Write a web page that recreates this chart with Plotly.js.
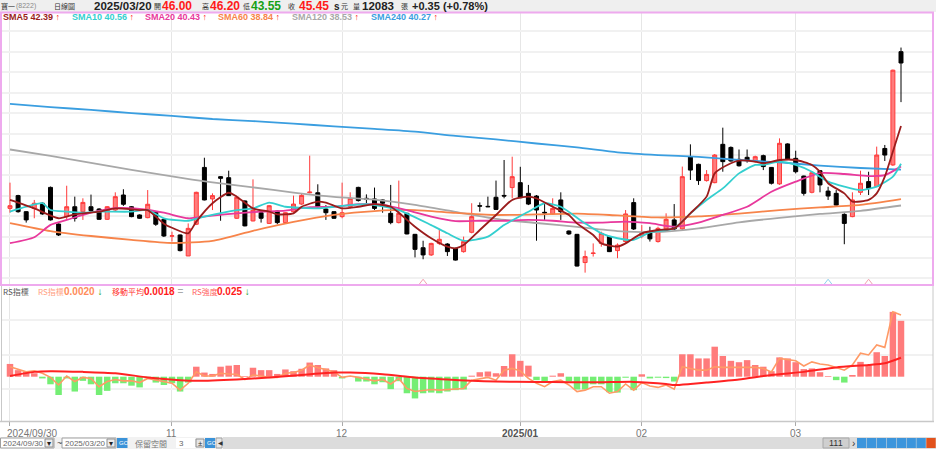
<!DOCTYPE html>
<html><head><meta charset="utf-8">
<script src="https://cdn.plot.ly/plotly-3.0.1.min.js"></script>
<style>html,body{margin:0;padding:0;background:#fff;}#chart{width:936px;height:449px;}</style>
</head><body><div id="chart"></div>
<script>
// ---- price candles (one per trading day, 2024/09/30 .. 2025/03/20) ----
const openP  = [38.39,39.01,38.23,38.39,38.64,39.41,37.63,37.99,38.47,38.23, 38.47,38.36,37.86,38.31,39.04,38.47,38.07,37.94,38.23,37.86, 37.04,37.10,36.08,37.62,40.38,38.85,39.93,39.88,37.91,38.75, 37.78,38.18,37.66,38.26,37.70,38.23,38.60,39.15,39.15,38.36, 38.23,37.99,38.47,39.41,38.88,38.85,38.80,38.15,37.70,38.15, 37.13,36.48,36.13,36.69,36.66,36.45,36.29,37.23,38.52,38.49, 38.93,39.02,39.40,39.64,39.12,38.99,38.20,38.12,38.80,37.29, 37.13,35.76,36.20,36.69,37.02,36.34,36.78,38.67,37.05,37.23, 36.78,37.39,37.83,37.39,40.90,40.53,39.74,39.64,41.50,41.35, 40.77,40.87,40.66,40.95,40.38,39.58,41.52,40.82,39.96,39.17, 40.22,39.23,39.12,38.10,37.99,39.17,39.69,39.45,41.30,40.50,46.00];
const highP  = [39.64,39.05,38.25,38.80,38.68,39.45,37.66,39.49,38.96,38.88, 39.06,38.40,38.50,39.17,39.32,38.50,38.10,39.28,38.26,37.90, 37.26,37.12,37.66,39.20,40.85,39.12,39.95,40.22,38.96,38.78, 39.80,38.20,38.55,38.28,38.20,39.01,39.12,40.95,39.56,38.55, 38.25,39.64,39.17,39.44,39.07,39.40,38.82,39.53,39.74,38.18, 37.15,36.82,36.72,37.39,36.70,36.48,37.02,38.64,38.68,38.96, 39.74,40.74,40.90,40.41,39.53,39.04,38.64,38.88,39.17,37.32, 37.15,36.34,36.69,37.26,37.05,36.69,38.31,38.88,37.58,37.50, 37.50,38.15,38.60,40.42,41.50,40.56,40.25,41.03,42.31,41.40, 41.25,41.25,40.95,41.00,40.40,41.79,41.55,41.19,39.98,40.17, 40.25,39.44,39.28,38.15,39.17,40.22,40.17,41.39,41.47,45.13,46.20];
const lowP   = [38.18,38.18,37.70,37.91,38.08,37.80,37.05,37.83,37.75,37.83, 38.23,37.83,37.83,38.23,38.51,37.96,37.88,37.91,37.54,37.00, 36.78,36.30,36.08,37.58,38.78,38.31,37.79,38.99,37.88,37.52, 37.76,37.70,37.64,37.62,37.68,38.18,38.56,39.12,38.39,37.83, 37.88,37.91,38.39,38.72,38.64,38.31,38.18,37.62,37.66,37.13, 36.01,35.92,36.08,36.61,36.08,35.86,36.24,37.18,38.23,38.45, 38.31,38.88,38.88,38.90,38.55,36.82,37.83,38.07,37.83,37.10, 35.57,35.27,36.05,36.53,36.27,35.97,36.69,37.34,36.94,36.78, 36.73,37.34,37.34,37.34,39.77,39.53,39.69,39.61,40.17,40.66, 40.42,40.61,40.61,40.25,39.55,39.53,40.74,40.09,39.01,39.12, 39.17,38.80,38.53,36.65,37.96,39.04,39.04,39.43,40.69,40.45,43.55];
const closeP = [38.52,38.23,37.83,38.64,38.12,37.83,37.10,38.47,37.91,38.68, 38.28,37.86,38.47,38.96,38.59,37.99,37.91,38.59,37.62,37.05, 37.06,36.34,37.42,39.17,38.80,39.01,39.85,39.01,38.93,37.54, 38.31,37.91,38.52,37.70,38.18,38.60,39.02,39.18,38.47,38.18, 37.91,38.18,38.88,38.77,38.82,38.39,38.64,37.70,38.15,37.15, 36.40,36.13,36.69,36.89,36.29,35.88,36.78,37.99,38.50,38.47, 38.34,38.99,39.93,38.91,38.60,38.31,38.17,38.39,38.23,37.15, 35.59,36.05,36.22,37.18,36.29,36.61,38.12,37.39,37.18,36.91, 37.42,37.86,37.39,39.93,40.25,39.74,40.04,40.98,40.66,40.69, 40.46,40.71,40.90,40.42,39.61,41.55,40.77,40.17,39.12,40.12, 39.53,38.99,38.55,37.66,38.80,39.61,39.36,40.98,40.98,45.10,45.45];

// ---- moving averages (day index, price) ----
const sma5Idx = [0,3,6,8,11,13,16,17,19,20,22,23,25,27,28,30,32,33,35,36,38,39,41,43,45,47,48,50,52,54,55,56,58,60,62,64,65,67,69,70,72,73,75,76,78,80,82,84,86,87,89,90,92,93,95,97,99,100,101,103,104,106,107,108,109,110];
const sma5 = [38.80,38.39,37.91,38.10,38.23,38.39,38.31,38.31,37.65,37.45,37.18,37.75,38.64,39.15,38.96,38.39,38.23,38.10,38.15,38.47,38.72,38.67,38.39,38.47,38.60,38.47,38.18,37.50,36.94,36.53,36.45,36.61,37.34,38.07,38.80,38.96,38.88,38.47,38.07,37.66,37.10,36.69,36.53,36.69,37.18,37.34,37.42,38.15,38.96,40.09,40.58,40.71,40.66,40.58,40.74,40.74,40.50,40.17,39.61,39.12,38.72,38.80,39.12,39.93,41.15,42.39];
const sma10Idx = [0,2,4,5,7,9,11,15,17,19,22,24,28,30,32,34,38,40,44,48,52,54,56,59,61,64,66,68,71,73,75,77,79,82,84,86,88,90,92,93,95,97,99,101,103,105,107,109,110];
const sma10 = [38.23,38.47,38.64,38.31,38.23,38.18,38.23,38.23,38.31,37.91,37.79,37.99,38.31,38.39,38.67,38.47,38.39,38.47,38.60,38.31,37.58,37.18,36.82,37.02,37.58,38.23,38.64,38.47,37.66,37.18,36.94,36.86,37.23,37.42,38.15,38.80,39.36,40.09,40.50,40.50,40.66,40.50,40.17,39.69,39.45,39.28,39.45,39.93,40.56];
const sma20Idx = [0,3,5,7,10,13,16,19,22,25,28,31,34,37,40,43,46,49,52,55,58,61,64,67,70,73,76,79,82,85,88,91,94,97,100,103,106,108,110];
const sma20 = [36.70,36.99,37.59,37.83,38.18,38.40,38.36,38.18,37.91,38.04,38.15,38.23,38.28,38.45,38.47,38.59,38.56,38.31,37.99,37.77,37.79,37.79,37.83,37.79,37.70,37.70,37.75,37.67,37.50,37.70,38.07,38.47,39.20,39.69,40.10,40.06,39.96,40.00,40.43];
const slowIdx = [0,5,10,15,20,25,30,35,40,45,50,55,60,65,70,75,80,85,90,95,100,105,110];
const sma60  = [37.68,37.29,37.05,36.86,36.71,36.81,37.30,37.73,38.07,38.26,38.31,38.17,38.07,38.10,38.14,38.05,37.95,38.00,38.14,38.31,38.44,38.56,38.84];
const sma120 = [41.25,40.94,40.60,40.26,39.94,39.65,39.41,39.16,38.95,38.82,38.56,38.22,37.88,37.68,37.49,37.29,37.24,37.42,37.71,37.93,38.12,38.27,38.53];
const sma240 = [43.46,43.31,43.17,43.02,42.88,42.73,42.63,42.51,42.37,42.25,42.12,41.91,41.74,41.54,41.35,41.11,40.98,40.89,40.74,40.62,40.47,40.35,40.27];
const smaNames = ['SMA5','SMA10','SMA20','SMA60','SMA120','SMA240'];
const smaLast  = [42.39,40.56,40.43,38.84,38.53,40.27];
const smaColors = ['#9a1c1c','#34cfcf','#e8389c','#f7844a','#a8a8a8','#3a9ee0'];

// ---- signal triangles (day index) ----
const signalIdx = [51,101,106];
const signalY = [34.78,34.78,34.78];
const signalColors = ['#f2a0b0','#8fcfee','#f2a0b0'];

// ---- RS indicator panel ----
const rsBars = [0.37,0.19,0.14,0.10,-0.05,-0.22,-0.53,-0.05,-0.43,-0.12, -0.22,-0.53,-0.41,-0.19,-0.19,-0.26,-0.31,-0.05,-0.17,-0.24, -0.19,-0.43,-0.17,0.29,0.12,0.08,0.29,0.32,0.34,0.02, 0.26,0.19,0.19,0.08,0.21,0.16,0.23,0.41,0.34,0.24, 0.19,-0.05,0.01,-0.14,-0.14,-0.22,-0.16,-0.36,-0.13,-0.48, -0.63,-0.48,-0.46,-0.48,-0.43,-0.39,-0.37,0.03,0.13,0.15, 0.10,0.31,0.65,0.46,0.32,-0.10,-0.14,0.03,0.10,-0.14, -0.37,-0.37,-0.22,-0.22,-0.45,-0.46,-0.03,-0.39,0.07,-0.05, -0.03,-0.04,-0.14,0.65,0.65,0.53,0.53,0.87,0.60,0.46, 0.42,0.48,0.34,0.29,0.16,0.56,0.53,0.42,0.22,0.24, 0.13,0.02,-0.10,-0.17,0.05,0.43,0.34,0.71,0.60,1.88,1.62];
const rsLine = [0.29,0.21,0.14,0.17,0.10,-0.02,-0.24,0.02,-0.14,-0.02, -0.05,-0.29,-0.14,-0.08,-0.12,-0.12,-0.17,-0.05,-0.10,-0.14, -0.19,-0.39,-0.19,0.14,0.02,0.02,0.10,0.08,0.07,-0.08, 0.05,0.02,-0.02,-0.02,0.10,0.12,0.19,0.34,0.26,0.21, 0.14,-0.02,0.02,-0.02,-0.08,-0.12,-0.08,-0.21,-0.05,-0.34, -0.43,-0.39,-0.37,-0.39,-0.37,-0.37,-0.34,-0.10,-0.05,-0.02, -0.10,0.19,0.24,0.17,-0.05,-0.19,-0.29,-0.14,-0.10,-0.24, -0.43,-0.39,-0.29,-0.29,-0.48,-0.43,-0.21,-0.39,-0.17,-0.27, -0.31,-0.24,-0.36,0.29,0.24,0.19,0.19,0.29,0.27,0.27, 0.29,0.27,0.27,0.24,0.14,0.53,0.50,0.46,0.31,0.43, 0.37,0.34,0.27,0.19,0.34,0.68,0.63,0.92,0.85,1.88,1.79];
const maIdx = [0,3,5,9,13,17,21,23,28,32,36,40,42,46,50,54,57,60,65,69,73,77,81,82,84,86,90,94,98,102,106,108,110];
const maLine = [0.02,0.14,0.16,0.14,0.10,-0.02,-0.10,-0.12,-0.08,-0.02,0.05,0.12,0.12,0.07,-0.02,-0.08,-0.12,-0.14,-0.15,-0.16,-0.16,-0.15,-0.21,-0.24,-0.21,-0.17,-0.08,0.05,0.14,0.27,0.34,0.39,0.55];
const rsGrid = [-0.357,0.629,1.643];

// ---- x axis ticks ----
const tickIdx = [0,20,41,63,78,97];
const tickLabels = ['2024/09/30','11','12','2025/01','02','03'];

// ---- header ----
const header = {name:'寶一', code:'(8222)', kind:'日線圖', date:'2025/03/20', open:'46.00', high:'46.20', low:'43.55', close:'45.45', vol:'12083', chg:'+0.35 (+0.78%)'};
const rsLegend = {name:'RS指標', rsLabel:'RS指標', rsVal:'0.0020', maLabel:'移動平均', maVal:'0.0018', strLabel:'RS強度', strVal:'0.025'};

// ================= drawing =================
const W = 936, H = 449;
const P = x => x / W, Q = y => 1 - y / H;
const LAT = 'Liberation Sans, Arial, sans-serif';
const CJK = 'Noto Sans CJK TC, Noto Sans CJK SC, sans-serif';
const idx = openP.map((_, i) => i);

const traces = [];
traces.push({type:'candlestick', x:idx, open:openP, high:highP, low:lowP, close:closeP,
  xaxis:'x', yaxis:'y', whiskerwidth:0, hoverinfo:'skip',
  increasing:{line:{color:'#ff3a3a', width:1}, fillcolor:'#ff7c7c'},
  decreasing:{line:{color:'#000000', width:1}, fillcolor:'#000000'}});
const smaX = [sma5Idx, sma10Idx, sma20Idx, slowIdx, slowIdx, slowIdx];
const smaY = [sma5, sma10, sma20, sma60, sma120, sma240];
for (let k = 5; k >= 0; k--) {
  traces.push({type:'scatter', mode:'lines', x:smaX[k], y:smaY[k], xaxis:'x', yaxis:'y',
    line:{color:smaColors[k], width:1.8, shape:'spline', smoothing:0.6}, hoverinfo:'skip'});
}
traces.push({type:'scatter', mode:'markers', x:signalIdx, y:signalY, xaxis:'x', yaxis:'y',
  marker:{symbol:'triangle-up-open', size:7, color:signalColors, line:{width:1, color:signalColors}}, hoverinfo:'skip', cliponaxis:false});
traces.push({type:'bar', x:idx, y:rsBars, xaxis:'x', yaxis:'y2',
  marker:{color:rsBars.map(v => v >= 0 ? '#ff7b7b' : '#74ee74'), line:{width:0}}, hoverinfo:'skip'});
traces.push({type:'scatter', mode:'lines', x:idx, y:rsLine, xaxis:'x', yaxis:'y2',
  line:{color:'#ff9a66', width:1.6}, hoverinfo:'skip'});
traces.push({type:'scatter', mode:'lines', x:maIdx, y:maLine, xaxis:'x', yaxis:'y2',
  line:{color:'#ff2222', width:2, shape:'spline', smoothing:0.6}, hoverinfo:'skip'});

const shapes = [
  {type:'rect', xref:'paper', yref:'paper', x0:0, x1:1, y0:Q(12), y1:1, fillcolor:'#efefef', line:{width:0}, layer:'below'},
  {type:'rect', xref:'paper', yref:'paper', x0:P(1), x1:P(933), y0:Q(285), y1:Q(12.5), line:{color:'#eeaaee', width:2}, fillcolor:'rgba(0,0,0,0)'},
  {type:'line', xref:'paper', yref:'paper', x0:P(1.5), x1:P(1.5), y0:Q(421), y1:Q(286), line:{color:'#c8c8c8', width:1}},
  {type:'line', xref:'paper', yref:'paper', x0:P(933), x1:P(933), y0:Q(421), y1:Q(286), line:{color:'#c8c8c8', width:1}},
  {type:'line', xref:'paper', yref:'paper', x0:0, x1:P(934), y0:Q(421.5), y1:Q(421.5), line:{color:'#c8c8c8', width:1.5}},
  // bottom toolbar
  {type:'rect', xref:'paper', yref:'paper', x0:0, x1:1, y0:0, y1:Q(437), fillcolor:'#dcdcdc', line:{width:0}},
  {type:'rect', xref:'paper', yref:'paper', x0:0, x1:P(223), y0:0, y1:Q(437), fillcolor:'#f2f2f2', line:{width:0}},
  {type:'rect', xref:'paper', yref:'paper', x0:P(0.5), x1:P(54), y0:Q(448), y1:Q(438), fillcolor:'#ffffff', line:{color:'#a0a0a0', width:1}},
  {type:'rect', xref:'paper', yref:'paper', x0:P(45), x1:P(53), y0:Q(447), y1:Q(439), fillcolor:'#ececec', line:{color:'#909090', width:1}},
  {type:'rect', xref:'paper', yref:'paper', x0:P(62), x1:P(116), y0:Q(448), y1:Q(438), fillcolor:'#ffffff', line:{color:'#a0a0a0', width:1}},
  {type:'rect', xref:'paper', yref:'paper', x0:P(107), x1:P(115), y0:Q(447), y1:Q(439), fillcolor:'#ececec', line:{color:'#909090', width:1}},
  {type:'rect', xref:'paper', yref:'paper', x0:P(117), x1:P(127.5), y0:Q(448), y1:Q(438), fillcolor:'#3a92d8', line:{width:0}},
  {type:'rect', xref:'paper', yref:'paper', x0:P(176), x1:P(195), y0:Q(448), y1:Q(438), fillcolor:'#ffffff', line:{width:0}},
  {type:'rect', xref:'paper', yref:'paper', x0:P(196), x1:P(204), y0:Q(447), y1:Q(439), fillcolor:'#e6e6e6', line:{color:'#909090', width:1}},
  {type:'rect', xref:'paper', yref:'paper', x0:P(205), x1:P(215), y0:Q(448), y1:Q(438), fillcolor:'#3a92d8', line:{width:0}},
  {type:'rect', xref:'paper', yref:'paper', x0:P(216), x1:P(222), y0:Q(448), y1:Q(438), fillcolor:'#e6e6e6', line:{color:'#a0a0a0', width:1}},
  {type:'rect', xref:'paper', yref:'paper', x0:P(823), x1:P(849), y0:Q(448), y1:Q(438), fillcolor:'#cfcfcf', line:{color:'#a8a8a8', width:1}},
];
for (let k = 0; k < 8; k++) {
  const x0 = 857 + k * 9.9;
  shapes.push({type:'rect', xref:'paper', yref:'paper', x0:P(x0), x1:P(x0 + 9.4), y0:Q(448), y1:Q(438),
    fillcolor: k === 7 ? '#e2521c' : '#3c95dc', line:{width:0}});
}

function ann(x, y, text, color, size, family, opts) {
  return Object.assign({xref:'paper', yref:'paper', x:P(x), y:Q(y), xanchor:'left', yanchor:'middle',
    text:text, showarrow:false, borderpad:0, font:{color:color, size:size, family:family}}, opts || {});
}
const up = '<span style="color:#ff1a1a">↑</span>';
const annotations = [
  ann(0, 6, header.name, '#333', 7, CJK),
  ann(15, 6.5, header.code, '#8a8a8a', 7, LAT),
  ann(53, 6, header.kind, '#333', 7, CJK),
  ann(93, 6.5, '<b>' + header.date + '</b>', '#222', 11.5, LAT),
  ann(152.5, 6, '開', '#333', 7, CJK),
  ann(160.5, 6.5, '<b>' + header.open + '</b>', '#ff1a1a', 12, LAT),
  ann(200.5, 6, '高', '#333', 7, CJK),
  ann(208.5, 6.5, '<b>' + header.high + '</b>', '#ff1a1a', 12, LAT),
  ann(241.5, 6, '低', '#333', 7, CJK),
  ann(249.5, 6.5, '<b>' + header.low + '</b>', '#16a016', 12, LAT),
  ann(287, 6, '收', '#333', 7, CJK),
  ann(297.5, 6.5, '<b>' + header.close + '</b>', '#ff1a1a', 12, LAT),
  ann(333, 6.5, '<b>s</b>', '#222', 10, LAT),
  ann(340, 6, '元', '#333', 7, CJK),
  ann(352, 6, '量', '#333', 7, CJK),
  ann(361, 6.5, '<b>' + header.vol + '</b>', '#222', 11.5, LAT),
  ann(399.5, 6, '張', '#333', 7, CJK),
  ann(411, 6.5, '<b>' + header.chg + '</b>', '#222', 11, LAT),
];
const legX = [2, 71, 144, 217, 291, 370];
for (let k = 0; k < 6; k++) {
  annotations.push(ann(legX[k], 17.5, '<b>' + smaNames[k] + ' ' + smaLast[k].toFixed(2) + '</b> ' + up, smaColors[k], 9, LAT));
}
annotations.push(ann(2, 291, rsLegend.name, '#555', 8, CJK));
annotations.push(ann(37, 291, rsLegend.rsLabel, '#ffa080', 8, CJK));
annotations.push(ann(63, 291.5, '<b>' + rsLegend.rsVal + '</b> <span style="color:#1a9a1a">↓</span>', '#ff8c5a', 10, LAT));
annotations.push(ann(111, 291, rsLegend.maLabel, '#ff3030', 8, CJK));
annotations.push(ann(143, 291.5, '<b>' + rsLegend.maVal + '</b> <span style="color:#aaa">=</span>', '#ff1a1a', 10, LAT));
annotations.push(ann(191, 291, rsLegend.strLabel, '#ff6060', 8, CJK));
annotations.push(ann(216, 291.5, '<b>' + rsLegend.strVal + '</b> <span style="color:#1a9a1a">↓</span>', '#ff1a1a', 10, LAT));
// x tick labels
for (let k = 0; k < tickIdx.length; k++) {
  const isYear = tickLabels[k] === '2025/01';
  if (k === 0) {
    annotations.push(ann(6, 433, tickLabels[k], '#777', 10, LAT));
  } else {
    annotations.push({xref:'x', yref:'paper', x:tickIdx[k], y:Q(433), xanchor:'center', yanchor:'middle', showarrow:false, borderpad:0,
      text: isYear ? '<b>' + tickLabels[k] + '</b>' : tickLabels[k], font:{color: isYear ? '#555' : '#777', size:10, family:LAT}});
  }
}
// toolbar texts
annotations.push(ann(2, 443, '2024/09/30', '#666', 8, LAT));
annotations.push(ann(46, 443, '▾', '#222', 8, LAT));
annotations.push(ann(55.5, 443, '~', '#444', 9, LAT));
annotations.push(ann(64, 443, '2025/03/20', '#666', 8, LAT));
annotations.push(ann(108, 443, '▾', '#222', 8, LAT));
annotations.push(ann(117.5, 443, 'GO', '#ffffff', 6, LAT));
annotations.push(ann(134, 443, '保留空間', '#777', 8, CJK));
annotations.push(ann(178, 443, '3', '#666', 8, LAT));
annotations.push(ann(197, 443, '±', '#333', 8, LAT));
annotations.push(ann(205.5, 443, 'GO', '#ffffff', 6, LAT));
annotations.push(ann(216.5, 443, '◀', '#333', 6, LAT));
annotations.push(ann(828, 443, '111', '#333', 9, LAT));
annotations.push(ann(851, 443, '›', '#333', 10, LAT));

const layout = {
  width: W, height: H, margin:{l:0, r:0, t:0, b:0, pad:0}, autosize:false,
  paper_bgcolor:'#ffffff', plot_bgcolor:'rgba(0,0,0,0)', showlegend:false, bargap:0.2,
  xaxis:{domain:[P(1), P(933)], range:[-1.11, 113.95], anchor:'y2', tickvals:tickIdx, showticklabels:false,
    ticks:'outside', ticklen:4, tickcolor:'#aaaaaa', showgrid:true, gridcolor:'#e6e6e6', gridwidth:1,
    zeroline:false, showline:false, rangeslider:{visible:false}, fixedrange:true},
  yaxis:{domain:[Q(285), Q(12)], range:[34.67, 47.926], tick0:0, dtick:1, showticklabels:false,
    showgrid:true, gridcolor:'#f1f1f1', gridwidth:2, zeroline:false, showline:false, fixedrange:true},
  yaxis2:{domain:[Q(421), Q(287)], range:[-1.284, 2.60], tickvals:rsGrid, showticklabels:false,
    showgrid:true, gridcolor:'#f1f1f1', gridwidth:2, zeroline:false, showline:false, fixedrange:true},
  shapes: shapes, annotations: annotations
};
Plotly.newPlot('chart', traces, layout, {displayModeBar:false, staticPlot:true});
</script></body></html>
